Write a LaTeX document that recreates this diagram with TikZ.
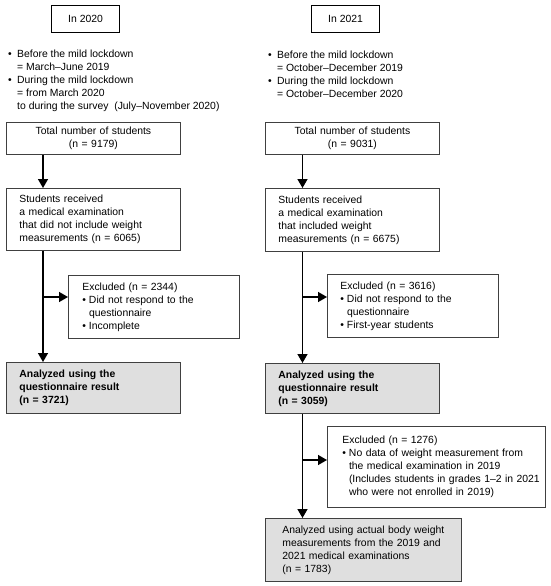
\documentclass[tikz,border=0pt]{standalone}
\usepackage{fontspec}
\setmainfont{Liberation Sans}
\usetikzlibrary{arrows.meta,calc}
\newcommand{\mybul}{\makebox[6.6pt][l]{•}}
\newcommand{\myind}{\hspace*{6.6pt}}
\newcommand{\tbul}{\makebox[9pt][l]{•}}
\newcommand{\tind}{\hspace*{9pt}}
\begin{document}
\begin{tikzpicture}[x=1pt,y=-1pt,
  every node/.style={font=\fontsize{10.4}{13}\selectfont},
  box/.style={draw=black!75, line width=0.8pt, anchor=north west, inner ysep=0pt, align=left},
  res/.style={box, fill=gray!25},
  yearbox/.style={draw=black, line width=1.1pt, anchor=north west, minimum width=68pt, minimum height=27pt, inner sep=0pt},
  plain/.style={anchor=west, inner sep=0pt, align=left},
  arr/.style={line width=1.4pt, -{Triangle[length=9pt,width=10pt]}}]
\useasboundingbox (0,0) rectangle (550,586);

% year headers
\node[yearbox] (in20) at (51,5) {In 2020};
\node[yearbox] (in21) at (311,5) {In 2021};

% period descriptions
\node[plain] (per20) at (8,80.5) {\tbul Before the mild lockdown\\
\tind= March–June 2019\\
\tbul During the mild lockdown\\
\tind= from March 2020\\
\tind to during the survey\ \ (July–November 2020)};
\node[plain] (per21) at (268,74) {\tbul Before the mild lockdown\\
\tind= October–December 2019\\
\tbul During the mild lockdown\\
\tind= October–December 2020};

% left column
\node[box, text width=148pt, inner xsep=13pt, minimum height=32pt, align=center] (tot20) at (6,122)
  {Total number of students\\(n = 9179)};
\node[box, text width=148pt, inner xsep=13pt, minimum height=62pt] (stu20) at (6,188)
  {\mbox{Students received}\\\mbox{a medical examination}\\\mbox{that did not include weight}\\\mbox{measurements (n = 6065)}};
\node[box, text width=143pt, inner xsep=14pt, minimum height=63pt] (exc20) at (68,275)
  {\mbox{Excluded (n = 2344)}\\\mbox{\mybul Did not respond to the}\\\mbox{\myind questionnaire}\\\mbox{\mybul Incomplete}};
\node[res, text width=148pt, inner xsep=13pt, minimum height=51pt, font=\fontsize{10.4}{13}\selectfont\bfseries] (ana20) at (6,362)
  {\mbox{Analyzed using the}\\\mbox{questionnaire result}\\\mbox{(n = 3721)}};

% right column
\node[box, text width=148pt, inner xsep=13pt, minimum height=32pt, align=center] (tot21) at (265,122)
  {Total number of students\\(n = 9031)};
\node[box, text width=148pt, inner xsep=13pt, minimum height=63pt] (stu21) at (265,188)
  {\mbox{Students received}\\\mbox{a medical examination}\\\mbox{that included weight}\\\mbox{measurements (n = 6675)}};
\node[box, text width=145pt, inner xsep=13pt, minimum height=63pt] (exc21) at (327,274)
  {\mbox{Excluded (n = 3616)}\\\mbox{\mybul Did not respond to the}\\\mbox{\myind questionnaire}\\\mbox{\mybul First-year students}};
\node[res, text width=148pt, inner xsep=13pt, minimum height=50pt, font=\fontsize{10.4}{13}\selectfont\bfseries] (ana21) at (265,363)
  {\mbox{Analyzed using the}\\\mbox{questionnaire result}\\\mbox{(n = 3059)}};
\node[box, text width=188pt, inner xsep=15pt, minimum height=81pt] (exc3) at (327,426)
  {\mbox{Excluded (n = 1276)}\\\mbox{\mybul No data of weight measurement from}\\\mbox{\myind the medical examination in 2019}\\\mbox{\myind (Includes students in grades 1–2 in 2021}\\\mbox{\myind who were not enrolled in 2019)}};
\node[res, text width=162pt, inner xsep=17pt, minimum height=63pt] (fin) at (265,518)
  {\mbox{Analyzed using actual body weight}\\\mbox{measurements from the 2019 and}\\\mbox{2021 medical examinations}\\\mbox{(n = 1783)}};

% connectors
\coordinate (vl) at (43,0);
\coordinate (vr) at (302.5,0);
\coordinate (bl1) at (43,297);
\coordinate (br1) at (302.5,297);
\coordinate (br2) at (302.5,460);
\draw[arr] (tot20.south -| vl) -- (stu20.north -| vl);
\draw[arr] (stu20.south -| vl) -- (ana20.north -| vl);
\draw[arr] (bl1) -- (bl1 -| exc20.west);
\draw[arr] (tot21.south -| vr) -- (stu21.north -| vr);
\draw[arr] (stu21.south -| vr) -- (ana21.north -| vr);
\draw[arr] (br1) -- (br1 -| exc21.west);
\draw[arr] (ana21.south -| vr) -- (fin.north -| vr);
\draw[arr] (br2) -- (br2 -| exc3.west);
\end{tikzpicture}
\end{document}
